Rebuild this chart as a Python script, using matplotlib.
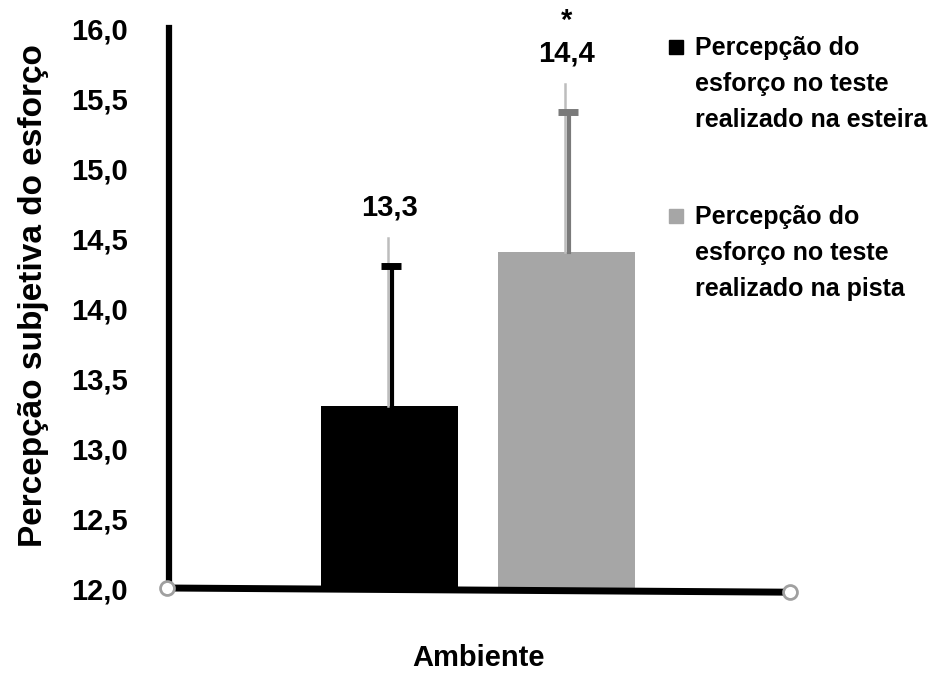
import numpy as np
import matplotlib.pyplot as plt

plt.rcParams['font.family'] = ['Liberation Sans', 'DejaVu Sans']
plt.rcParams['font.weight'] = 'bold'

# data
series = ["Percepção do\nesforço no teste\nrealizado na esteira",
          "Percepção do\nesforço no teste\nrealizado na pista"]
means = [13.3, 14.4]
sd = [1.0, 1.0]
sd_upper = [1.2, 1.2]
value_labels = ["13,3", "14,4"]
marks = ["", "*"]
yticks = [12.0, 12.5, 13.0, 13.5, 14.0, 14.5, 15.0, 15.5, 16.0]

bar_colors = ["#000000", "#a6a6a6"]
err_colors = ["#000000", "#7a7a7a"]

W, H = 949, 677
fig = plt.figure(figsize=(W / 100, H / 100), dpi=100)
ax = fig.add_axes([167 / W, 89 / H, 623 / W, 560 / H])

xpos = [0.357, 0.641]
width = 0.22

for i in range(len(means)):
    ax.bar(xpos[i], means[i] - 12, bottom=12, width=width, color=bar_colors[i], zorder=2)
    # thin light line behind the error bar
    ax.plot([xpos[i] - 0.002, xpos[i] - 0.002], [means[i], means[i] + sd_upper[i]],
            color="#bdbdbd", lw=1.8, zorder=3)
    ax.plot([xpos[i] + 0.004, xpos[i] + 0.004], [means[i], means[i] + sd[i]],
            color=err_colors[i], lw=3, zorder=4)
    ax.plot(xpos[i] + 0.002, means[i] + sd[i], marker="_", markersize=14, mew=5,
            color=err_colors[i], zorder=4)
    ax.text(xpos[i], means[i] + 1.32, value_labels[i], ha="center", va="bottom",
            fontsize=21, fontweight="bold")
    if marks[i]:
        ax.text(xpos[i], means[i] + 1.65, marks[i], ha="center", va="center",
                fontsize=21, fontweight="bold")

ax.set_xlim(0, 1)
ax.set_ylim(12, 16)
ax.set_yticks(yticks)
ax.set_yticklabels([f"{v:.1f}".replace(".", ",") for v in yticks])
ax.tick_params(axis="y", length=0, labelsize=21, pad=30)
ax.set_xticks([])

for s in ["top", "right", "bottom"]:
    ax.spines[s].set_visible(False)
ax.spines["left"].set_linewidth(4.5)
ax.spines["left"].set_position(("data", 0.004))

# bottom axis line with open circle ends
ax.plot([0, 1], [12, 11.97], color="black", lw=5, clip_on=False, zorder=5,
        marker="o", markersize=10, markerfacecolor="white",
        markeredgecolor="#a0a0a0", markeredgewidth=2)

ax.set_ylabel("Percepção subjetiva do esforço", fontsize=24, fontweight="bold")
ax.yaxis.set_label_coords(-0.19, 0.523)
ax.set_xlabel("Ambiente", fontsize=21, fontweight="bold", labelpad=40)

# legend drawn by hand: square aligned with the first line of each label
leg_tops = [36, 205]
for i in range(len(series)):
    fig.text(695 / W, 1 - leg_tops[i] / H, series[i], ha="left", va="top",
             fontsize=18, fontweight="bold", linespacing=1.62)
    fig.add_artist(plt.Line2D([676 / W], [1 - (leg_tops[i] + 11) / H], marker="s",
                              markersize=10, color=bar_colors[i], linestyle="none"))

fig.savefig("out.png", dpi=100)
